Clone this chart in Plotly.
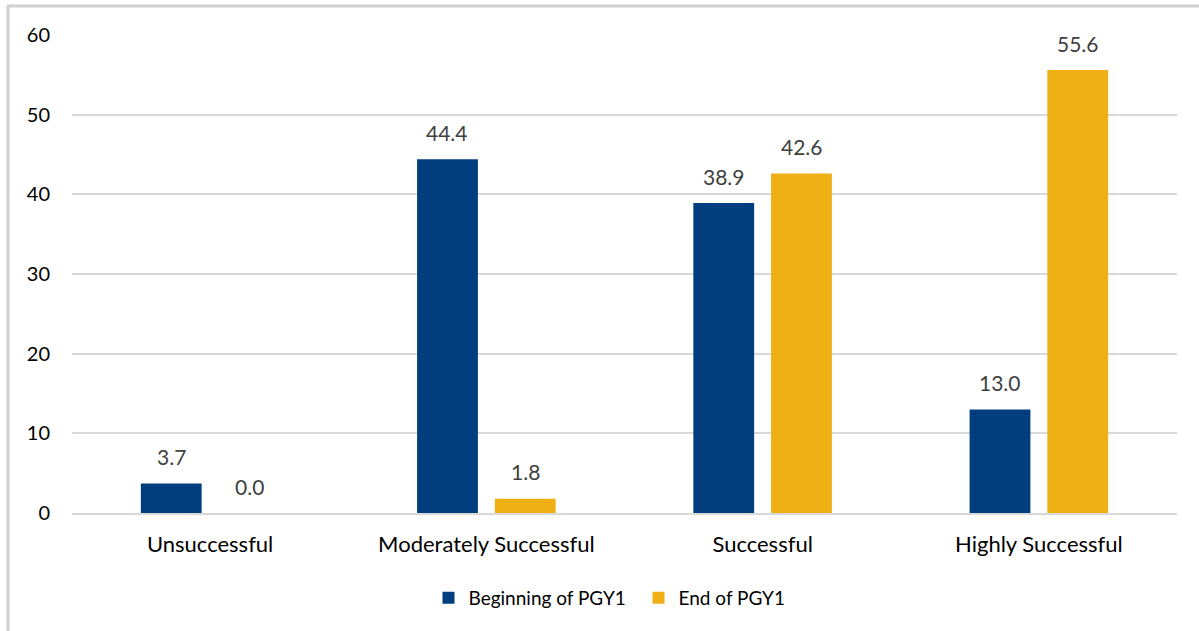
import plotly.graph_objects as go

categories = ["Unsuccessful", "Moderately Successful", "Successful", "Highly Successful"]
beginning = [3.7, 44.4, 38.9, 13.0]
end = [0.0, 1.8, 42.6, 55.6]
series_names = ["Beginning of PGY1", "End of PGY1"]
colors = ["#003E7E", "#EEB015"]
tick_vals = [0, 10, 20, 30, 40, 50, 60]

W, H = 1199, 631
L, R, T, B = 72, 22, 35, 118

fig = go.Figure()
for name, vals, col in zip(series_names, [beginning, end], colors):
    fig.add_trace(go.Bar(x=categories, y=vals, name=name,
                         marker=dict(color=col, line=dict(width=0))))

# data labels
for vals, shift in [(beginning, -39), (end, 39)]:
    for c, v in zip(categories, vals):
        fig.add_annotation(x=c, y=v, text=f"{v:.1f}", showarrow=False,
                           xshift=shift, yshift=27, yanchor="middle",
                           font=dict(size=21, color="#404040"))

pw = W - L - R
ph = H - T - B
def px_x(x):
    return (x - L) / pw
def px_y(y):
    return (H - B - y) / ph

fig.update_layout(
    width=W, height=H,
    margin=dict(l=L, r=R, t=T, b=B, autoexpand=False),
    paper_bgcolor="white", plot_bgcolor="white",
    font=dict(family="Lato, Open Sans, sans-serif", size=20, color="#000000"),
    barmode="group", bargap=0.437, bargroupgap=0.218,
    showlegend=True,
    legend=dict(orientation="h", x=0.5 + 14 / pw, xanchor="center", y=px_y(598), yanchor="middle",
                font=dict(size=19, color="#000000"), itemwidth=30, tracegroupgap=0,
                entrywidth=165, entrywidthmode="pixels"),
    xaxis=dict(showgrid=False, showline=True, linecolor="#d9d9d9", linewidth=1.5,
               ticks="", tickfont=dict(size=22, color="#000000"), ticklabelstandoff=11),
    yaxis=dict(range=[0, 60], tickvals=tick_vals, showgrid=True, gridcolor="#d9d9d9",
               gridwidth=1.5, zeroline=False, showline=False, ticks="",
               tickfont=dict(size=20, color="#000000"), ticklabelstandoff=21),
    shapes=[
        dict(type="line", xref="paper", yref="paper", x0=px_x(7), x1=px_x(W), y0=px_y(6), y1=px_y(6),
             line=dict(color="#d0d0d0", width=3)),
        dict(type="line", xref="paper", yref="paper", x0=px_x(8), x1=px_x(8), y0=px_y(6), y1=px_y(H),
             line=dict(color="#d0d0d0", width=3)),
    ],
)

fig.write_html("out.html", config={"displayModeBar": False},
               post_script="document.body.style.margin='0';")
